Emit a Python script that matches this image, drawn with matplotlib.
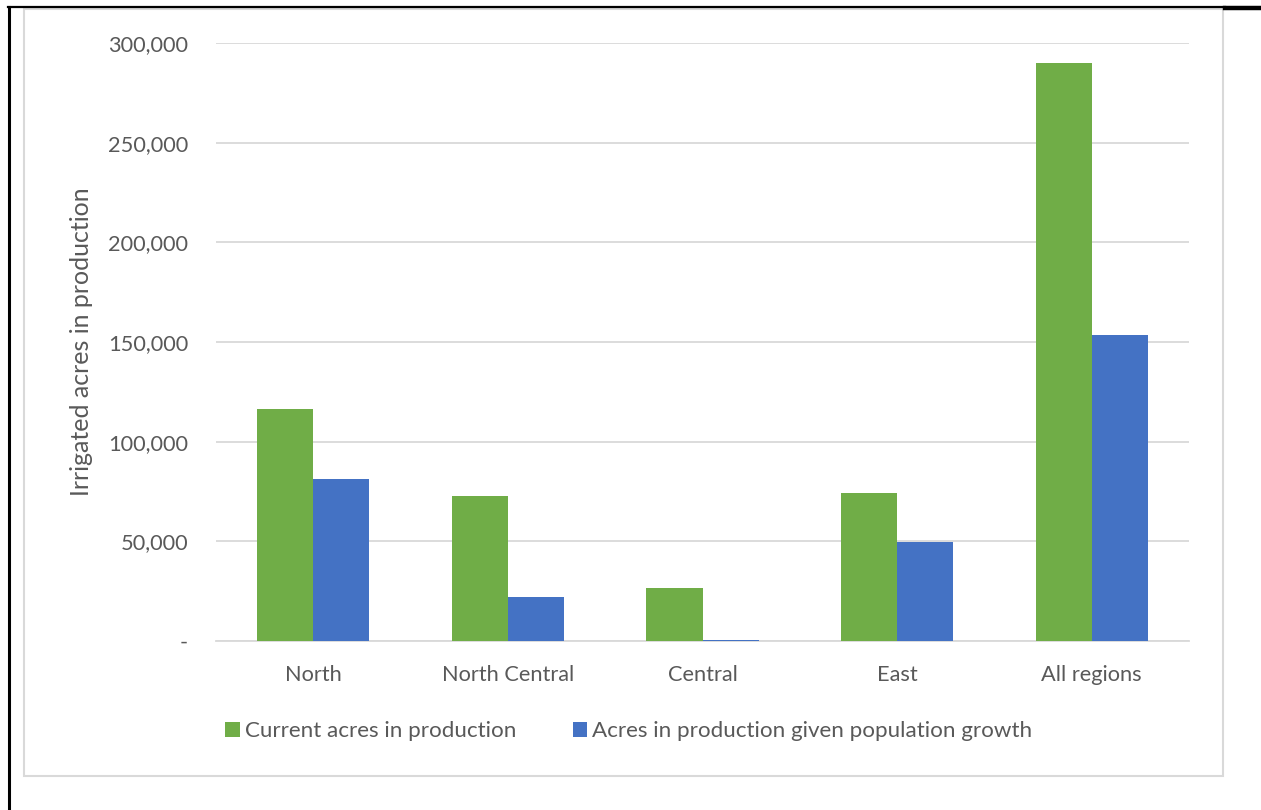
import matplotlib
matplotlib.use("Agg")
import matplotlib.pyplot as plt
from matplotlib.lines import Line2D
from matplotlib.patches import Rectangle
from matplotlib.ticker import FuncFormatter
import numpy as np

regions = ["North", "North Central", "Central", "East", "All regions"]
current_acres = [116400, 72800, 26600, 74300, 290100]
growth_acres = [81300, 22100, 500, 49700, 153600]
series_names = ["Current acres in production",
                "Acres in production given population growth"]
y_ticks = [0, 50000, 100000, 150000, 200000, 250000, 300000]

GREEN = "#70ad47"
BLUE = "#4472c4"
TEXT = "#595959"
GRID = "#d9d9d9"

plt.rcParams["font.family"] = ["Lato", "DejaVu Sans"]

W, H = 1261, 810
fig = plt.figure(figsize=(W / 100, H / 100), dpi=100)
fig.patch.set_facecolor("white")


def fx(px):
    return px / W


def fy(py):
    return 1 - py / H


# outer frame lines
fig.add_artist(Line2D([fx(8.5), fx(8.5)], [fy(7), fy(810)], color="black", lw=2.2))
fig.add_artist(Line2D([fx(8), fx(1225)], [fy(7), fy(7)], color="black", lw=1.6))
fig.add_artist(Line2D([fx(1225), fx(1261)], [fy(8), fy(8)], color="black", lw=3.2))

# chart area border
fig.add_artist(Rectangle((fx(24), fy(776)), fx(1223 - 24), (776 - 9) / H,
                         fill=False, edgecolor=GRID, lw=1.5))

ax = fig.add_axes([fx(216), fy(641), fx(1189 - 216), (641 - 43) / H])
x = np.arange(len(regions))
bw = 0.288
ax.bar(x - bw / 2, current_acres, bw, color=GREEN, label=series_names[0], zorder=3)
ax.bar(x + bw / 2, growth_acres, bw, color=BLUE, label=series_names[1], zorder=3)

ax.set_xlim(-0.5, len(regions) - 0.5)
ax.set_ylim(0, 300000)
ax.set_yticks(y_ticks)
ax.yaxis.set_major_formatter(FuncFormatter(lambda v, p: "-" if v == 0 else f"{int(v):,}"))
ax.set_xticks(x)
ax.set_xticklabels(regions)
ax.tick_params(axis="both", length=0, labelsize=15.7, colors=TEXT)
ax.tick_params(axis="y", pad=20)
ax.tick_params(axis="x", pad=17)
ax.grid(axis="y", color=GRID, lw=1.3, zorder=0)
for s in ["top", "right", "left"]:
    ax.spines[s].set_visible(False)
ax.spines["bottom"].set_color(GRID)
ax.spines["bottom"].set_linewidth(1.3)

fig.text(fx(82), fy(342), "Irrigated acres in production", rotation=90,
         ha="center", va="center", fontsize=18, color=TEXT)

leg = fig.legend(loc="center", bbox_to_anchor=(fx(629), fy(731)), ncol=2,
                 frameon=False, fontsize=16.1, labelcolor=TEXT,
                 handlelength=0.64, handleheight=0.64, handletextpad=0.25,
                 columnspacing=2.5)

fig.savefig("out.png", dpi=100, facecolor="white")
